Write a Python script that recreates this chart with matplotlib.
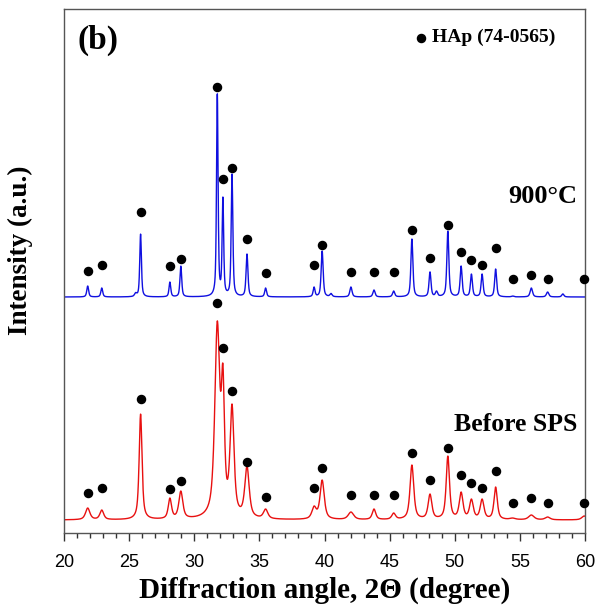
import numpy as np
import matplotlib
matplotlib.use("Agg")
import matplotlib.pyplot as plt

# HAp reflections (2theta, degree)
peak_pos = [21.82, 22.90, 25.88, 28.13, 28.97, 31.77, 32.20, 32.90, 34.05, 35.48,
            39.20, 39.82, 42.03, 43.80, 45.31, 46.71, 48.10, 49.47, 50.49, 51.28,
            52.10, 53.14, 54.44, 55.88, 57.13, 59.94]

# 900 C trace: observed peak heights above baseline and widths (FWHM, degree)
blue_h = [11, 9, 63, 15, 31, 204, 100, 123, 43, 9,
          10, 46, 10, 7, 6, 58, 25, 66, 31, 23,
          23, 28, 1, 9, 5, 0]
blue_w = [0.17, 0.17, 0.15, 0.16, 0.16, 0.14, 0.14, 0.15, 0.17, 0.17,
          0.17, 0.18, 0.2, 0.2, 0.2, 0.18, 0.18, 0.18, 0.18, 0.18,
          0.18, 0.18, 0.2, 0.22, 0.22, 0.2]
blue_extra_pos = [25.5, 40.5, 48.6, 58.3]
blue_extra_h = [3, 3, 5, 3]

# Before SPS trace
red_h = [12, 10, 106, 22, 29, 199, 156, 116, 54, 11,
         14, 40, 8, 11, 7, 55, 26, 64, 28, 21,
         21, 33, 2, 5, 3, 4]
red_w = [0.4, 0.35, 0.26, 0.3, 0.36, 0.45, 0.28, 0.36, 0.4, 0.4,
         0.4, 0.38, 0.5, 0.32, 0.34, 0.34, 0.34, 0.3, 0.34, 0.34,
         0.34, 0.3, 0.5, 0.5, 0.45, 0.45]

# marker heights above each baseline
blue_dot = [26, 32, 85, 31, 38, 210, 118, 129, 58, 24,
            32, 52, 25, 25, 25, 67, 39, 72, 45, 37,
            32, 49, 18, 22, 18, 18]
red_dot = [27, 32, 121, 31, 39, 217, 172, 129, 58, 23,
           32, 52, 25, 25, 25, 67, 40, 72, 45, 37,
           32, 49, 17, 22, 17, 17]

blue_offset = 236
red_offset = 13

x = np.linspace(20, 60, 3201)


def pv(t, p, fw, eta):
    g = fw / 2
    lor = g ** 2 / ((t - p) ** 2 + g ** 2)
    gau = np.exp(-np.log(2) * ((t - p) / g) ** 2)
    return eta * lor + (1 - eta) * gau


def profile(pos, heights, widths, eta):
    pos = np.asarray(pos, float)
    A = np.array([[pv(pi, pj, wj, eta) for pj, wj in zip(pos, widths)] for pi in pos])
    amps = np.clip(np.linalg.solve(A, np.asarray(heights, float)), 0, None)
    y = np.zeros_like(x)
    for p, a, fw in zip(pos, amps, widths):
        y += a * pv(x, p, fw, eta)
    return y


blue = profile(peak_pos, blue_h, blue_w, 0.6)
for p, a in zip(blue_extra_pos, blue_extra_h):
    blue += a * pv(x, p, 0.2, 0.6)
red = profile(peak_pos, red_h, red_w, 0.7)

fig = plt.figure(figsize=(5.95, 6.10), dpi=100)
ax = fig.add_axes([64 / 595, 77 / 610, 521 / 595, 524 / 610])

ax.plot(x, blue + blue_offset, color="#1010e0", lw=1.0)
ax.plot(x, red + red_offset, color="#e81010", lw=1.0)
ax.scatter(peak_pos, np.array(blue_dot) + blue_offset, s=34, color="black", zorder=3, clip_on=False)
ax.scatter(peak_pos, np.array(red_dot) + red_offset, s=34, color="black", zorder=3, clip_on=False)

ax.set_xlim(20, 60)
ax.set_ylim(0, 524)
ax.set_xticks(np.arange(20, 61, 5))
ax.set_xticks(np.arange(20, 61, 1), minor=True)
ax.set_yticks([])
ax.tick_params(axis="x", which="major", direction="out", length=6, width=1, color="#333333",
               labelsize=13, pad=9)
ax.tick_params(axis="x", which="minor", direction="out", length=3.5, width=1, color="#333333")
for lab in ax.get_xticklabels():
    lab.set_fontfamily("Liberation Sans")
for s in ax.spines.values():
    s.set_color("#555555")
    s.set_linewidth(1.0)

serif = "Liberation Serif"
ax.set_xlabel("Diffraction angle, 2\u0398 (degree)", fontfamily=serif, fontweight="bold",
              fontsize=21, labelpad=4)
fig.text(20 / 595, 1 - 250 / 610, "Intensity (a.u.)", rotation=90, fontfamily=serif,
         fontweight="bold", fontsize=19.5, ha="center", va="center")

ax.text(0.025, 0.97, "(b)", transform=ax.transAxes, fontfamily=serif, fontweight="bold",
        fontsize=24, va="top", ha="left")
ax.scatter([0.685], [0.945], s=34, color="black", transform=ax.transAxes, clip_on=False)
ax.text(0.706, 0.945, "HAp (74-0565)", transform=ax.transAxes, fontfamily=serif, fontweight="bold",
        fontsize=14, va="center", ha="left")
ax.text(0.985, 0.643, "900\u00b0C", transform=ax.transAxes, fontfamily=serif, fontweight="bold",
        fontsize=19, va="center", ha="right")
ax.text(0.985, 0.208, "Before SPS", transform=ax.transAxes, fontfamily=serif, fontweight="bold",
        fontsize=18.5, va="center", ha="right")

fig.savefig("out.png", dpi=100)
